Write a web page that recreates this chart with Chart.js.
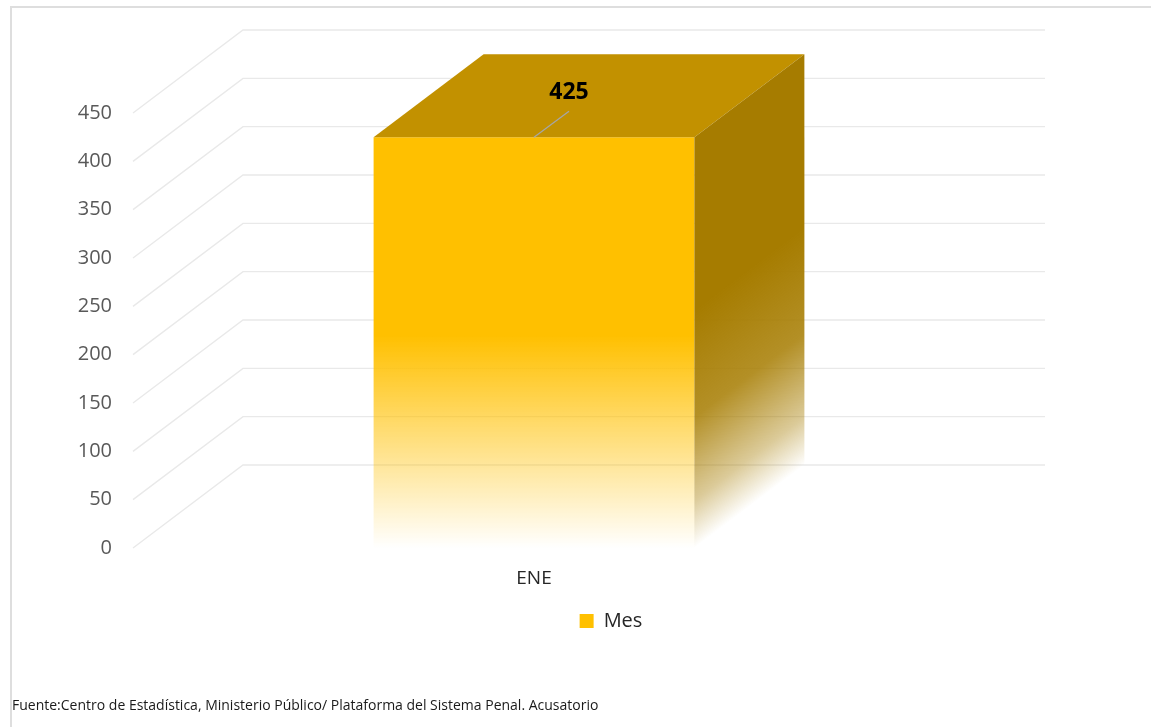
<!DOCTYPE html>
<html>
<head>
<meta charset="utf-8">
<script src="https://cdn.jsdelivr.net/npm/chart.js@4.4.1/dist/chart.umd.min.js"></script>
<style>
    html, body { margin: 0; padding: 0; background: #fff; overflow: hidden; }
    #frame { position: absolute; left: 10px; top: 6px; right: 0; bottom: 0;
             border-left: 2px solid #dedede; border-top: 2px solid #dedede; }
    #wrap { position: absolute; left: 0; top: 0; width: 1151px; height: 727px; }
    #source { position: absolute; left: 12px; top: 695px; white-space: nowrap;
              font: 14px 'Open Sans', sans-serif; color: #1a1a1a; }
</style>
</head>
<body>
<div id="frame"></div>
<div id="wrap"><canvas id="chart" width="1151" height="727"></canvas></div>
<div id="source">Fuente:Centro de Estadística, Ministerio Público/ Plataforma del Sistema Penal. Acusatorio</div>
<script>
// Data
const categories = ['ENE'];
const seriesLabel = 'Mes';
const values = [425];
const yMin = 0;
const yMax = 450;
const yStep = 50;

// 3D look (Excel style column)
const DEPTH_X = 110;
const DEPTH_Y = -83;
const FADE_FROM = 220;          // value where the front face starts to fade out
const SIDE_FADE = 190;          // px, length of the side face fade
const FRONT = [255, 192, 0];
const TOP = '#C29100';
const SIDE = [166, 124, 0];
const GRID_COLOR = '#e9e9e9';
const FONT = "'Open Sans', sans-serif";

const rgba = (c, a) => `rgba(${c[0]}, ${c[1]}, ${c[2]}, ${a})`;

function frontFill(context) {
    const chart = context.chart;
    if (!chart.chartArea) return rgba(FRONT, 1);
    const y = chart.scales.y;
    const g = chart.ctx.createLinearGradient(0, y.getPixelForValue(FADE_FROM), 0, y.getPixelForValue(0));
    g.addColorStop(0, rgba(FRONT, 1));
    g.addColorStop(1, rgba(FRONT, 0));
    return g;
}

// draws the back/left walls and the top + side faces of the column
const depthPlugin = {
    id: 'depth3d',
    beforeDatasetsDraw(chart) {
        const { ctx, chartArea, scales: { y } } = chart;
        ctx.save();
        ctx.strokeStyle = GRID_COLOR;
        ctx.lineWidth = 1.4;
        y.ticks.forEach(t => {
            const py = y.getPixelForValue(t.value);
            ctx.beginPath();
            ctx.moveTo(chartArea.left, py);
            ctx.lineTo(chartArea.left + DEPTH_X, py + DEPTH_Y);
            ctx.lineTo(chartArea.right + DEPTH_X, py + DEPTH_Y);
            ctx.stroke();
        });
        ctx.restore();
    },
    afterDatasetsDraw(chart) {
        const ctx = chart.ctx;
        const meta = chart.getDatasetMeta(0);
        meta.data.forEach((bar, i) => {
            const { x, y, base, width } = bar.getProps(['x', 'y', 'base', 'width'], true);
            const l = x - width / 2;
            const r = x + width / 2;
            ctx.save();

            // top face
            ctx.fillStyle = TOP;
            ctx.beginPath();
            ctx.moveTo(l, y);
            ctx.lineTo(r, y);
            ctx.lineTo(r + DEPTH_X, y + DEPTH_Y);
            ctx.lineTo(l + DEPTH_X, y + DEPTH_Y);
            ctx.closePath();
            ctx.fill();

            // side face, fades out toward its lower edge
            const len = Math.hypot(DEPTH_X, DEPTH_Y);
            const nx = -DEPTH_Y / len, ny = DEPTH_X / len;
            const g = ctx.createLinearGradient(r - nx * SIDE_FADE, base - ny * SIDE_FADE, r, base);
            g.addColorStop(0, rgba(SIDE, 1));
            g.addColorStop(0.45, rgba(SIDE, 0.85));
            g.addColorStop(0.8, rgba(SIDE, 0.4));
            g.addColorStop(1, rgba(SIDE, 0));
            ctx.fillStyle = g;
            ctx.beginPath();
            ctx.moveTo(r, y);
            ctx.lineTo(r + DEPTH_X, y + DEPTH_Y);
            ctx.lineTo(r + DEPTH_X, base + DEPTH_Y);
            ctx.lineTo(r, base);
            ctx.closePath();
            ctx.fill();

            // data label with leader line
            ctx.strokeStyle = '#a6a6a6';
            ctx.lineWidth = 1.3;
            ctx.beginPath();
            ctx.moveTo(x, y);
            ctx.lineTo(x + 35, y - 26);
            ctx.stroke();
            ctx.fillStyle = '#000';
            ctx.font = `bold 23px ${FONT}`;
            ctx.textAlign = 'center';
            ctx.textBaseline = 'middle';
            ctx.fillText(String(chart.data.datasets[0].data[i]), x + 35, y - 45);
            ctx.restore();
        });
    }
};

new Chart(document.getElementById('chart'), {
    type: 'bar',
    data: {
        labels: categories,
        datasets: [{
            label: seriesLabel,
            data: values,
            backgroundColor: frontFill,
            borderWidth: 0,
            categoryPercentage: 1,
            barPercentage: 0.4
        }]
    },
    options: {
        responsive: false,
        animation: false,
        layout: { padding: { left: 71, right: 0, top: 113, bottom: 86 } },
        plugins: {
            tooltip: { enabled: false },
            legend: {
                position: 'bottom',
                labels: {
                    color: '#262626',
                    font: { family: FONT, size: 20 },
                    boxWidth: 14,
                    boxHeight: 14,
                    padding: 3,
                    generateLabels(chart) {
                        const items = Chart.defaults.plugins.legend.labels.generateLabels(chart);
                        items.forEach(it => { it.fillStyle = rgba(FRONT, 1); it.lineWidth = 0; it.strokeStyle = 'transparent'; });
                        return items;
                    }
                }
            }
        },
        scales: {
            x: {
                grid: { display: false, drawTicks: false },
                border: { display: false },
                ticks: { color: '#262626', font: { family: FONT, size: 19 }, padding: 19 },
                afterFit(s) { s.height = 60; }
            },
            y: {
                min: yMin,
                max: yMax,
                grid: { display: false, drawTicks: false },
                border: { display: false },
                ticks: { stepSize: yStep, color: '#595959', font: { family: FONT, size: 20 }, padding: 21 },
                afterFit(s) { s.width = 62; }
            },
            depth: {
                type: 'linear',
                position: 'right',
                grid: { display: false, drawTicks: false },
                border: { display: false },
                ticks: { display: false },
                afterFit(s) { s.width = 216; }
            }
        }
    },
    plugins: [depthPlugin]
});
</script>
</body>
</html>
